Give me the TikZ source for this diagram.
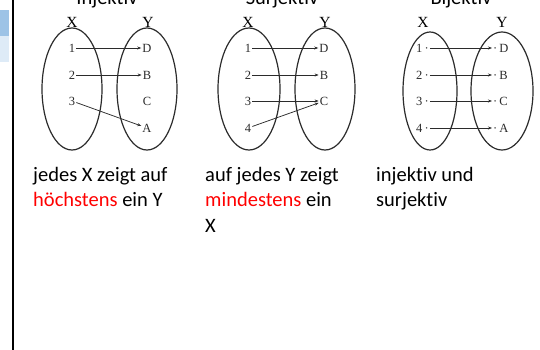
\documentclass[tikz,border=0pt]{standalone}
\usepackage{fontspec}
\setmainfont{Carlito}[Ligatures=NoCommon]
\newfontfamily\diagfont{Liberation Serif}
\usetikzlibrary{arrows.meta}
\definecolor{accentred}{HTML}{FF0000}
\definecolor{tabdark}{HTML}{9DC3E6}
\definecolor{tablight}{HTML}{DEEBF7}
\definecolor{setgray}{HTML}{2B2B2B}

\tikzset{
    setoval/.style={draw=setgray, line width=1.2pt},
    elem/.style={font=\diagfont\fontsize{12.5}{12.5}\selectfont, text=setgray, inner sep=1pt},
    setname/.style={font=\diagfont\fontsize{15.5}{15.5}\selectfont, inner sep=0pt},
    mapto/.style={-{Stealth[length=4pt, width=3pt]}, draw=setgray, line width=0.75pt},
    caption/.style={font=\fontsize{20.5}{25.5}\selectfont, align=left, anchor=base west, inner sep=0pt},
    heading/.style={font=\fontsize{20.5}{24}\selectfont, anchor=base, inner sep=0pt}
}

\begin{document}
\begin{tikzpicture}[x=1pt, y=-1pt]

    % Frame: page is 540 x 350
    \useasboundingbox (0,0) rectangle (540,350);
    \clip (0,0) rectangle (540,350);

    % 1. Slide edge on the left
    \fill[tabdark] (0,10) rectangle (9,36);
    \fill[tablight] (0,36) rectangle (9,62);
    \draw[line width=2.5pt] (13,0) -- (13,350);

    % 2. Headings (cut at the top)
    \node[heading] (hinj) at (107,5) {Injektiv};
    \node[heading] (hsur) at (282,5) {Surjektiv};
    \node[heading] (hbij) at (461,5) {Bijektiv};

    % 3. Injektiv
    \draw[setoval] (72,89) ellipse [x radius=30, y radius=61];
    \draw[setoval] (147,89) ellipse [x radius=30, y radius=61];
    \node[setname] (iX) at (72,22) {X};
    \node[setname] (iY) at (148,22) {Y};
    \foreach \n/\y in {1/48, 2/75, 3/101}
        \node[elem] (i\n) at (72,\y) {\n};
    \foreach \m/\y in {D/48, B/75, C/101, A/128}
        \node[elem] (i\m) at (147,\y) {\m};
    \draw[mapto] (i1) -- (iD);
    \draw[mapto] (i2) -- (iB);
    \draw[mapto] (i3) -- (iA);

    % 4. Surjektiv
    \draw[setoval] (249,89) ellipse [x radius=31, y radius=61];
    \draw[setoval] (325,89) ellipse [x radius=30, y radius=61];
    \node[setname] (sX) at (248,22) {X};
    \node[setname] (sY) at (325,22) {Y};
    \foreach \n/\y in {1/48, 2/75, 3/101, 4/128}
        \node[elem] (s\n) at (248,\y) {\n};
    \foreach \m/\y in {D/48, B/75, C/101}
        \node[elem] (s\m) at (324,\y) {\m};
    \draw[mapto] (s1) -- (sD);
    \draw[mapto] (s2) -- (sB);
    \draw[mapto] (s3) -- (sC);
    \draw[mapto] (s4) -- (sC);

    % 5. Bijektiv
    \draw[setoval] (430,91) ellipse [x radius=27, y radius=59];
    \draw[setoval] (502,91) ellipse [x radius=31, y radius=59];
    \node[setname] (bX) at (423,22) {X};
    \node[setname] (bY) at (502,22) {Y};
    \foreach \n/\y in {1/48, 2/75, 3/101, 4/128}
        \node[elem, anchor=west] (b\n) at (415,\y) {\n\,·};
    \foreach \m/\y in {D/48, B/75, C/101, A/128}
        \node[elem, anchor=west] (b\m) at (492,\y) {·\,\m};
    \draw[mapto] (b1) -- (bD);
    \draw[mapto] (b2) -- (bB);
    \draw[mapto] (b3) -- (bC);
    \draw[mapto] (b4) -- (bA);

    % 6. Captions (anchored at the baseline of their last line)
    \node[caption] (capinj) at (33,206.5) {jedes X zeigt auf\\\textcolor{accentred}{höchstens} ein Y};
    \node[caption] (capsur) at (205,232) {auf jedes Y zeigt\\\textcolor{accentred}{mindestens} ein\\X};
    \node[caption] (capbij) at (376,206.5) {injektiv und\\surjektiv};

\end{tikzpicture}
\end{document}
